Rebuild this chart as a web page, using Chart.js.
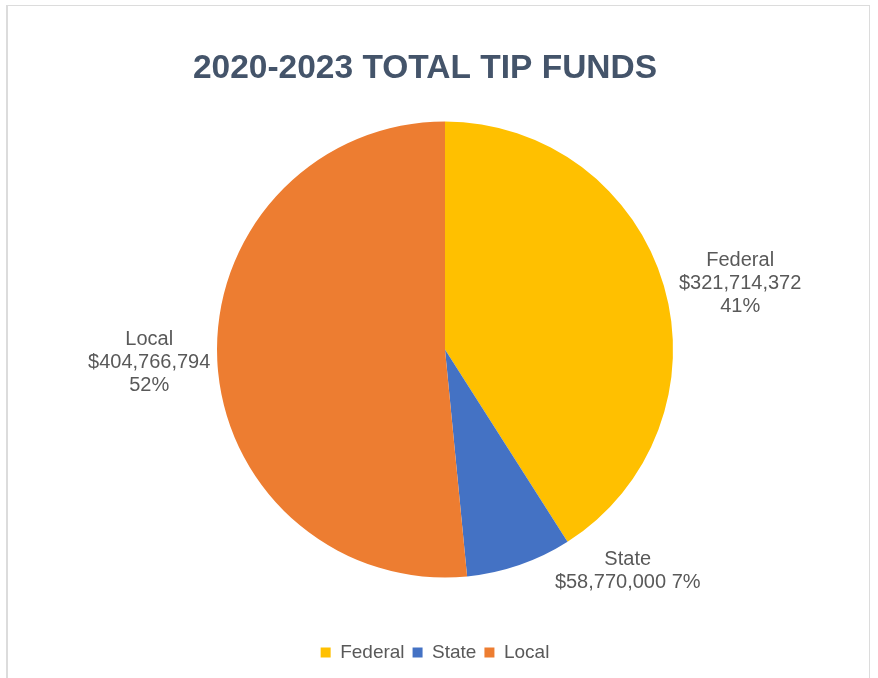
<!DOCTYPE html>
<html>
<head>
<meta charset="utf-8">
<script src="https://cdn.jsdelivr.net/npm/chart.js@4"></script>
<style>
  html, body { margin: 0; padding: 0; background: #fff; }
  #wrap { position: relative; width: 878px; height: 678px; }
  #frame { position: absolute; left: 6px; top: 5px; width: 861px; height: 700px;
           border: 1px solid #dcdcdc; border-left: 2px solid #dcdcdc; }
  #myChart { position: absolute; left: 0; top: 0; }
</style>
</head>
<body>
<div id="wrap">
  <div id="frame"></div>
  <canvas id="myChart" width="878" height="678"></canvas>
</div>
<script>
var chartTitle = "2020-2023 TOTAL TIP FUNDS";
var categories = ["Federal", "State", "Local"];
var funds = [321714372, 58770000, 404766794];
var percentLabels = ["41%", "7%", "52%"];
var colors = ["#FFC000", "#4472C4", "#ED7D31"];

var labelFont = "20px 'Liberation Sans', Arial, sans-serif";

function money(v) {
    return "$" + v.toLocaleString("en-US");
}

// title drawn by hand so it can sit a little left of the pie, like the original
var titlePlugin = {
    id: "topTitle",
    afterDraw: function (chart) {
        var ctx = chart.ctx;
        ctx.save();
        ctx.font = "bold 33.5px 'Liberation Sans', Arial, sans-serif";
        ctx.fillStyle = "#44546A";
        ctx.textAlign = "center";
        ctx.textBaseline = "middle";
        ctx.fillText(chartTitle, chart.width / 2 - 14, 69);
        ctx.restore();
    }
};

// nudge the legend a bit left of the pie centre
var legendShift = {
    id: "legendShift",
    afterLayout: function (chart) {
        chart.legend.left -= 10;
        chart.legend.right -= 10;
    }
};

// outside-end labels: name, value, percent
var sliceLabels = {
    id: "sliceLabels",
    afterDatasetsDraw: function (chart, args, opts) {
        var ctx = chart.ctx;
        var arcs = chart.getDatasetMeta(0).data;
        ctx.save();
        ctx.font = labelFont;
        ctx.fillStyle = "#595959";
        ctx.textAlign = "center";
        ctx.textBaseline = "middle";
        arcs.forEach(function (arc, i) {
            var lines = opts.lines[i];
            var w = 0;
            lines.forEach(function (l) { w = Math.max(w, ctx.measureText(l).width); });
            var h = lines.length * opts.lineHeight;
            var mid = (arc.startAngle + arc.endAngle) / 2;
            var dx = Math.cos(mid), dy = Math.sin(mid);
            var r = arc.outerRadius + opts.gap;
            var cx = arc.x + dx * (r + w / 2) + opts.nudge[i][0];
            var cy = arc.y + dy * (r + h / 2) + opts.nudge[i][1];
            lines.forEach(function (l, j) {
                ctx.fillText(l, cx, cy - h / 2 + opts.lineHeight * (j + 0.5));
            });
        });
        ctx.restore();
    }
};

new Chart("myChart", {
    type: "pie",
    data: {
        labels: categories,
        datasets: [
            {
                backgroundColor: colors,
                borderWidth: 0,
                data: funds
            }
        ]
    },
    plugins: [titlePlugin, legendShift, sliceLabels],
    options: {
        responsive: false,
        animation: false,
        radius: 228,
        layout: {
            padding: { top: 64, left: 12, right: 0, bottom: 6 }
        },
        plugins: {
            title: { display: false },
            tooltip: { enabled: false },
            legend: {
                display: true,
                position: "bottom",
                labels: {
                    boxWidth: 10,
                    boxHeight: 10,
                    padding: 8,
                    color: "#595959",
                    font: { family: "'Liberation Sans', Arial, sans-serif", size: 19 }
                }
            },
            sliceLabels: {
                gap: 11,
                lineHeight: 23,
                lines: [
                    [categories[0], money(funds[0]), percentLabels[0]],
                    [categories[1], money(funds[1]) + " " + percentLabels[1]],
                    [categories[2], money(funds[2]), percentLabels[2]]
                ],
                nudge: [[7, 11], [81, -26], [4, 0]]
            }
        }
    }
});
</script>
</body>
</html>
